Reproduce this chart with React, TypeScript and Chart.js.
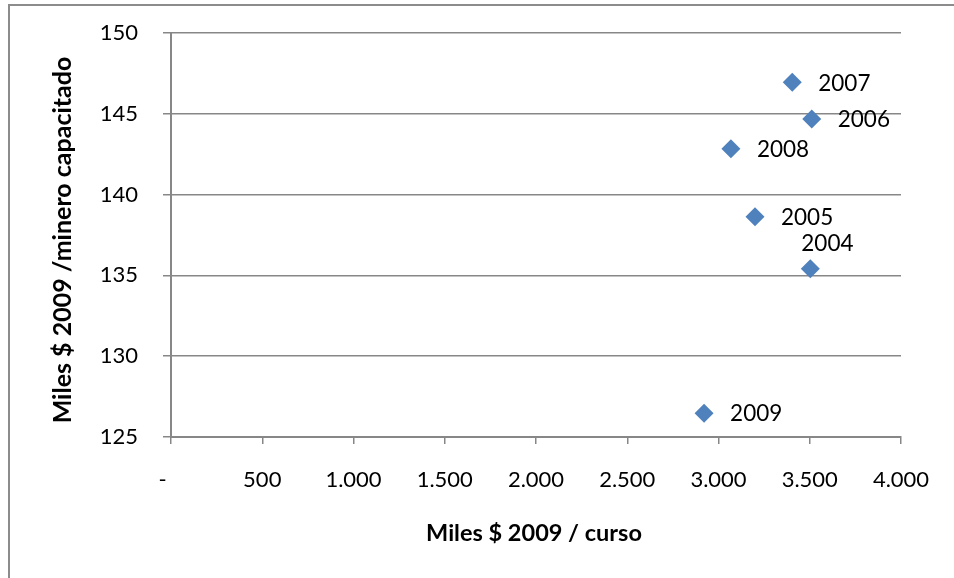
import React, { useEffect, useRef } from "react";
import { Chart, registerables } from "chart.js";

Chart.register(...registerables);

const years = ["2004", "2005", "2006", "2007", "2008", "2009"];
const costPerCourse = [3503, 3200, 3511, 3404, 3068, 2921];
const costPerMiner = [135.41, 138.63, 144.68, 146.95, 142.84, 126.47];
const labelAbove = ["2004"];

const xTitle = "Miles $ 2009 / curso";
const yTitle = "Miles $ 2009 /minero capacitado";

const FONT = "Lato, 'Open Sans', sans-serif";
const GRID = "#878787";

function fmtThousands(v: number): string {
  if (v === 0) return "-   ";
  return String(v).replace(/\B(?=(\d{3})+(?!\d))/g, ".");
}

export default function App() {
  const ref = useRef<HTMLCanvasElement | null>(null);

  useEffect(() => {
    if (!ref.current) return;

    const framePlugin = {
      id: "frame",
      beforeDraw(chart: any) {
        const ctx = chart.ctx;
        ctx.save();
        ctx.fillStyle = "#ffffff";
        ctx.fillRect(0, 0, chart.width, chart.height);
        ctx.strokeStyle = "#8c8c8c";
        ctx.lineWidth = 2;
        ctx.strokeRect(9, 5, 1000, 1000);
        ctx.restore();
      },
      afterDraw(chart: any) {
        const ctx = chart.ctx;
        const a = chart.chartArea;
        ctx.save();
        ctx.fillStyle = "#000000";
        ctx.textAlign = "center";
        ctx.textBaseline = "middle";
        ctx.font = `bold 23.5px ${FONT}`;
        ctx.fillText(xTitle, (a.left + a.right) / 2 - 2, 533);
        ctx.font = `bold 25px ${FONT}`;
        ctx.translate(63, (a.top + a.bottom) / 2 + 5);
        ctx.rotate(-Math.PI / 2);
        ctx.fillText(yTitle, 0, 0);
        ctx.restore();
      },
    };

    const labelPlugin = {
      id: "pointLabels",
      afterDatasetsDraw(chart: any) {
        const ctx = chart.ctx;
        const meta = chart.getDatasetMeta(0);
        ctx.save();
        ctx.fillStyle = "#000000";
        ctx.font = `22.5px ${FONT}`;
        ctx.textAlign = "left";
        ctx.textBaseline = "middle";
        meta.data.forEach((el: any, i: number) => {
          const name = years[i];
          if (labelAbove.includes(name)) {
            ctx.fillText(name, el.x - 9, el.y - 25);
          } else {
            ctx.fillText(name, el.x + 26, el.y + 1);
          }
        });
        ctx.restore();
      },
    };

    const chart = new Chart(ref.current, {
      type: "scatter",
      data: {
        datasets: [
          {
            label: "Costo",
            data: costPerCourse.map((x, i) => ({ x, y: costPerMiner[i] })),
            backgroundColor: "#4F81BD",
            borderColor: "#4F81BD",
            borderWidth: 0,
            pointStyle: "rectRot",
            pointRadius: 9.5,
          },
        ],
      },
      options: {
        responsive: false,
        animation: false,
        devicePixelRatio: 1,
        layout: { padding: { left: 0, top: 33, right: 53, bottom: 0 } },
        plugins: {
          legend: { display: false },
          tooltip: { enabled: false },
        },
        scales: {
          x: {
            type: "linear",
            min: 0,
            max: 4000,
            afterFit(scale: any) {
              scale.height = 141;
              scale.paddingLeft = 0;
              scale.paddingRight = 0;
            },
            ticks: {
              stepSize: 500,
              color: "#000000",
              font: { family: FONT, size: 22 },
              padding: 23,
              maxRotation: 0,
              callback: (v: any) => fmtThousands(Number(v)),
            },
            grid: {
              drawOnChartArea: false,
              drawTicks: true,
              tickLength: 7,
              color: GRID,
              lineWidth: 1.5,
            },
            border: { display: true, color: GRID, width: 2 },
          },
          y: {
            type: "linear",
            min: 125,
            max: 150,
            afterFit(scale: any) {
              scale.width = 171;
              scale.paddingTop = 0;
              scale.paddingBottom = 0;
            },
            ticks: {
              stepSize: 5,
              color: "#000000",
              font: { family: FONT, size: 22 },
              padding: 25,
            },
            grid: {
              drawOnChartArea: true,
              drawTicks: true,
              tickLength: 8,
              color: GRID,
              lineWidth: 1.5,
            },
            border: { display: true, color: GRID, width: 2 },
          },
        },
      },
      plugins: [framePlugin, labelPlugin],
    } as any);

    return () => chart.destroy();
  }, []);

  return (
    <div style={{ position: "fixed", left: 0, top: 0, width: 954, height: 578 }}>
      <canvas ref={ref} width={954} height={578} style={{ display: "block" }} />
    </div>
  );
}
